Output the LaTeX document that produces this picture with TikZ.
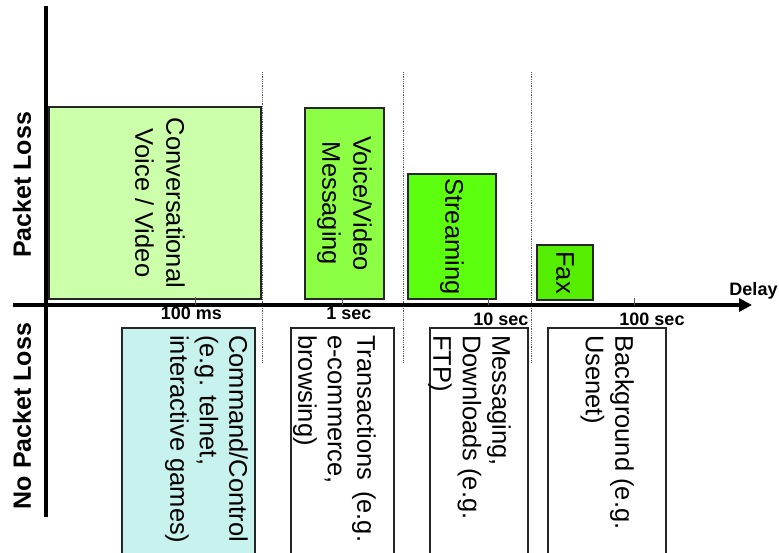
\documentclass[tikz,border=0pt]{standalone}
\usepackage{fontspec}
\setmainfont{Liberation Sans}
\usetikzlibrary{arrows.meta}

\definecolor{convgreen}{HTML}{CCFFAA}
\definecolor{msggreen}{HTML}{8CFF45}
\definecolor{streamgreen}{HTML}{5CFF0E}
\definecolor{faxgreen}{HTML}{55EE00}
\definecolor{cmdcyan}{HTML}{C8F2EE}

\begin{document}
\begin{tikzpicture}[x=1pt,y=-1pt,
  boxtext/.style={font=\fontsize{25.5}{31}\selectfont},
  upbox/.style={draw=black!85, line width=1.2pt, rotate=-90, align=center,
                inner sep=0pt, boxtext},
  uptext/.style={rotate=-90, align=center, inner sep=0pt, boxtext},
  lowbox/.style={draw=black!85, line width=1.2pt, inner sep=0pt},
  lowtext/.style={rotate=-90, anchor=north west, align=left, inner sep=0pt,
                  font=\fontsize{25.5}{29.5}\selectfont},
  axis/.style={line width=4pt},
  tickmark/.style={draw=black!65, line width=0.9pt},
  ticklabel/.style={font=\fontsize{18}{20}\selectfont\bfseries, anchor=base, inner sep=0pt},
  divider/.style={draw=black!65, line width=0.8pt, densely dotted},
  sidelabel/.style={font=\fontsize{25}{30}\selectfont\bfseries, rotate=90, inner sep=0pt}
]
\clip (0,0) rectangle (779,552);
\fill[white] (0,0) rectangle (779,552);

% delay class dividers
\coordinate (d1t) at (262,72);  \coordinate (d1b) at (262,363);
\coordinate (d2t) at (403,72);  \coordinate (d2b) at (403,363);
\coordinate (d3t) at (531,72);  \coordinate (d3b) at (531,363);
\draw[divider] (d1t) -- (d1b);
\draw[divider] (d2t) -- (d2b);
\draw[divider] (d3t) -- (d3b);

% loss-tolerant applications (above the delay axis)
\node[upbox, fill=convgreen, minimum width=192pt, minimum height=212pt] (conv)
  at (155,203) {};
\node[uptext] (convtext) at (160,203) {Conversational\\Voice / Video};
\node[upbox, fill=msggreen, minimum width=191pt, minimum height=79pt] (vvm)
  at (344.5,203.5) {Voice/Video\\Messaging};
\node[upbox, fill=streamgreen, minimum width=125pt, minimum height=88pt] (strm)
  at (452,236.5) {Streaming};
\node[upbox, fill=faxgreen, minimum width=55pt, minimum height=56pt] (fax)
  at (565,272.5) {Fax};

% loss-intolerant applications (below the delay axis)
\node[lowbox, fill=cmdcyan, minimum width=133pt, minimum height=232pt] (cmd) at (188.5,444) {};
\node[lowbox, fill=white, minimum width=103pt, minimum height=232pt] (trans) at (342.5,444) {};
\node[lowbox, fill=white, minimum width=98pt, minimum height=232pt] (msg) at (479,444) {};
\node[lowbox, fill=white, minimum width=118pt, minimum height=232pt] (bg) at (607,444) {};

\node[lowtext] (cmdtext) at (248,335) {Command/Control\\(e.g. telnet,\\interactive games)};
\node[lowtext] (transtext) at (376,335) {\makebox[207pt][s]{Transactions (e.g.}\\e-commerce,\\browsing)};
\node[lowtext] (msgtext) at (511,335) {Messaging,\\Downloads (e.g.\\FTP)};
\node[lowtext] (bgtext) at (634,335) {Background (e.g.\\Usenet)};

% axes
\coordinate (yt) at (46,6);   \coordinate (yb) at (46,517);
\coordinate (xl) at (13,305); \coordinate (xr) at (752,305);
\draw[axis] (yt) -- (yb);
\draw[axis, -{Triangle[length=13pt,width=13pt]}] (xl) -- (xr);

% ticks on the delay axis
\coordinate (t1a) at (195,297); \coordinate (t1b) at (195,305);
\coordinate (t2a) at (342,298); \coordinate (t2b) at (342,305);
\coordinate (t3a) at (488,298); \coordinate (t3b) at (488,305);
\coordinate (t4a) at (634,298); \coordinate (t4b) at (634,305);
\draw[tickmark] (t1a) -- (t1b);
\draw[tickmark] (t2a) -- (t2b);
\draw[tickmark] (t3a) -- (t3b);
\draw[tickmark] (t4a) -- (t4b);

\node[ticklabel] (l100ms) at (191.5,319) {100 ms};
\node[ticklabel] (l1s) at (349,319) {1 sec};
\node[ticklabel] (l10s) at (501,325) {10 sec};
\node[ticklabel] (l100s) at (652,325) {100 sec};
\node[ticklabel] (delay) at (753.5,295) {Delay};

% axis titles
\node[sidelabel] (pl) at (22,185) {Packet Loss};
\node[sidelabel] (npl) at (22,416) {No Packet Loss};
\end{tikzpicture}
\end{document}
